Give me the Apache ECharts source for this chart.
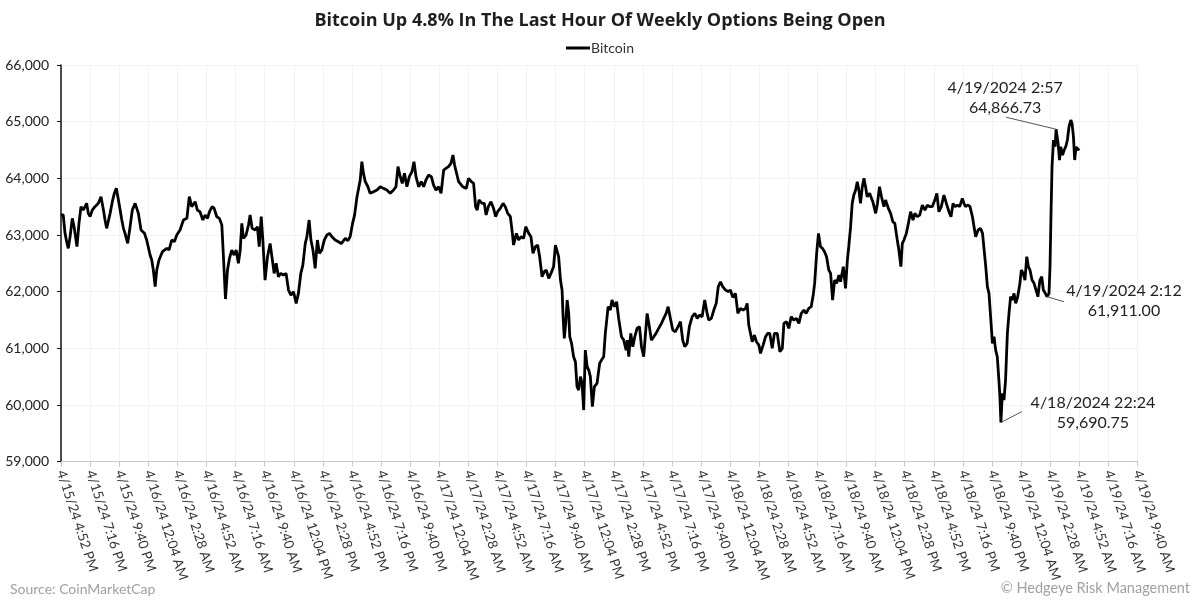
<!DOCTYPE html>
<html>
<head>
<meta charset="utf-8">
<script src="https://cdn.jsdelivr.net/npm/echarts@6/dist/echarts.min.js"></script>
<style>
html,body{margin:0;padding:0;background:#fff;}
#chart{width:1200px;height:603px;}
</style>
</head>
<body>
<div id="chart"></div>
<script>
// Minutes elapsed since 4/15/24 4:52 PM
const minutesFromStart = [
0,11,20,28,36,45,56,66,79,89,99,110,127,135,144,155,168,185,198,210,218,226,243,254,264,274,287,301,309,317,330,342,353,367,383,396,413,424,441,449,457,466,474,485,502,524,535,548,561,573,589,606,623,635,647,664,675,688,702,713,725,735,748,758,771,784,796,804,814,824,834,845,857,867,878,887,895,903,916,928,936,946,961,972,981,991,999,1010,1022,1035,1044,1055,1065,1076,1088,1101,1114,1126,1138,1151,1164,1175,1187,1197,1209,1217,1228,1237,1247,1258,1269,1279,1291,1303,1316,1329,1341,1357,1373,1387,1407,1420,1431,1443,1453,1465,1473,1481,1489,1497,1506,1519,1530,1547,1564,1580,1596,1613,1629,1646,1658,1668,1679,1689,1700,1712,1724,1737,1747,1757,1770,1783,1795,1806,1819,1833,1844,1856,1869,1881,1894,1905,1918,1930,1940,1948,1956,1968,1976,1988,2006,2017,2031,2042,2052,2060,2069,2084,2095,2104,2115,2128,2141,2151,2161,2174,2188,2199,2211,2224,2234,2240,2254,2265,2277,2290,2300,2315,2326,2336,2348,2359,2369,2381,2392,2402,2414,2425,2438,2447,2455,2463,2472,2480,2485,2491,2498,2505,2513,2518,2527,2537,2546,2554,2562,2571,2579,2587,2595,2604,2612,2620,2630,2640,2653,2666,2675,2686,2694,2708,2719,2727,2739,2750,2760,2774,2785,2797,2803,2810,2820,2830,2840,2851,2863,2873,2884,2893,2901,2912,2922,2934,2945,2958,2972,2983,2995,3005,3016,3028,3041,3054,3066,3077,3087,3099,3110,3124,3137,3149,3160,3173,3186,3198,3206,3219,3231,3243,3253,3264,3275,3289,3302,3313,3325,3338,3350,3363,3376,3388,3396,3404,3413,3421,3432,3442,3454,3462,3475,3487,3498,3508,3520,3531,3545,3558,3570,3578,3591,3602,3614,3627,3640,3652,3664,3677,3688,3701,3713,3723,3730,3740,3749,3759,3769,3779,3789,3800,3809,3819,3829,3839,3850,3858,3872,3883,3892,3899,3908,3916,3924,3933,3941,3949,3957,3966,3974,3982,3990,4002,4018,4032,4041,4051,4061,4073,4081,4095,4106,4117,4127,4139,4147,4157,4164,4172,4184,4194,4205,4217,4226,4238,4250,4263,4276,4288,4299,4312,4325,4335,4345,4357,4370,4382,4395,4405,4415,4425,4437,4448,4461,4469,4477,4489,4499,4511,4519,4527,4539,4551,4561,4569,4577,4585,4593,4601,4610,4618,4626,4634,4642,4647,4652,4659,4667,4675,4684,4692,4700,4709,4717,4725,4735,4746,4753,4762,4771,4780,4788,4796,4806,4816,4826,4835,4845,4854,4862,4872,4880,4890,4895,4900,4905,4912,4920,4925,4935,4942,4948,4957,4965,4973,4981,4989,4998,5004,5011,5017,5024,5031,5040
];
const bitcoinPrice = [
63353,63353,63030,62883,62765,62971,63294,63118,62795,63206,63500,63441,63559,63382,63324,63441,63500,63559,63677,63441,63265,63118,63382,63588,63735,63824,63559,63265,63118,63030,62853,63147,63441,63559,63382,63089,63030,62912,62648,62559,62383,62089,62383,62559,62706,62765,62736,62912,62883,63000,63089,63265,63294,63677,63500,63588,63440,63411,63264,63352,63294,63411,63500,63470,63323,63294,63176,62617,61870,62382,62588,62735,62647,62735,62500,62735,63205,62941,63000,63176,63352,63117,63088,63147,62794,63323,62911,62205,62617,62852,62617,62323,62500,62264,62323,62294,62323,62029,61940,62000,61793,61970,62323,62470,62852,62970,63264,62911,62735,62411,62911,62676,62735,62911,63000,63029,62970,62911,62880,62850,62940,62900,62970,63205,63352,63676,63647,63970,64294,64088,63941,63852,63735,63765,63794,63852,63823,63794,63735,63794,63852,64206,64029,63911,64088,63852,64029,64117,64294,64029,63852,63941,63852,63970,64058,64029,63882,63794,63852,63735,64147,64176,64206,64264,64411,64235,64117,63941,63911,63852,63823,64000,63941,63912,63500,63441,63617,63559,63559,63353,63500,63588,63470,63323,63411,63470,63559,63500,63382,63323,63029,62823,63029,62912,62970,62941,63147,63029,62970,62676,62794,62823,62618,62264,62353,62382,62235,62323,62441,62823,62853,62618,62206,62029,61559,61176,61441,61853,61617,61206,61088,60853,60765,60323,60265,60500,60382,59911,60970,60676,60617,60500,59970,60323,60382,60735,60793,60852,61264,61735,61676,61852,61735,61823,61529,61205,61146,60970,61146,60852,61264,61029,61205,61352,61382,61029,60852,61264,61617,61382,61146,61205,61264,61352,61441,61529,61617,61735,61529,61323,61294,61382,61470,61146,61029,61088,61382,61558,61617,61529,61588,61558,61852,61617,61499,61529,61676,61794,62088,62176,62088,62029,62000,62029,61900,61970,61617,61705,61676,61705,61793,61411,61382,61117,61235,61117,61058,60911,61058,61205,61264,61264,61000,61264,61264,60940,61000,61440,61470,61352,61558,61499,61529,61440,61617,61676,61617,61705,61735,61940,62146,62676,63029,62793,62764,62705,62617,62382,62323,61852,62205,62147,62293,62176,62440,62058,62558,62793,63147,63558,63705,63793,63941,63793,63558,63852,64000,63852,63676,63735,63588,63382,63558,63852,63676,63499,63617,63470,63382,63235,63205,62911,62735,62441,62852,62911,63029,63205,63411,63264,63382,63323,63352,63529,63441,63529,63500,63500,63617,63735,63411,63500,63705,63558,63411,63323,63558,63500,63529,63500,63646,63560,63500,63530,63500,63323,63147,62970,63088,63117,63029,62735,62441,62088,61970,61558,61088,61205,60970,60852,60441,60147,59690.75,60205,60088,60441,61264,61617,61911,61853,61970,61794,61911,62147,62382,62323,62205,62617,62441,62382,62205,62147,62029,61911,62205,62264,62029,61970,61911.00,61970,62441,63382,64205,64676,64558,64866.73,64617,64323,64558,64411,64500,64558,64676,64911,65029,64970,64735,64323,64558,64500,64529
];
// Axis tick labels, one every 144 minutes
const tickLabels = [
'4/15/24 4:52 PM','4/15/24 7:16 PM','4/15/24 9:40 PM','4/16/24 12:04 AM','4/16/24 2:28 AM','4/16/24 4:52 AM','4/16/24 7:16 AM','4/16/24 9:40 AM','4/16/24 12:04 PM','4/16/24 2:28 PM','4/16/24 4:52 PM','4/16/24 7:16 PM','4/16/24 9:40 PM',
'4/17/24 12:04 AM','4/17/24 2:28 AM','4/17/24 4:52 AM','4/17/24 7:16 AM','4/17/24 9:40 AM','4/17/24 12:04 PM','4/17/24 2:28 PM','4/17/24 4:52 PM','4/17/24 7:16 PM','4/17/24 9:40 PM',
'4/18/24 12:04 AM','4/18/24 2:28 AM','4/18/24 4:52 AM','4/18/24 7:16 AM','4/18/24 9:40 AM','4/18/24 12:04 PM','4/18/24 2:28 PM','4/18/24 4:52 PM','4/18/24 7:16 PM','4/18/24 9:40 PM',
'4/19/24 12:04 AM','4/19/24 2:28 AM','4/19/24 4:52 AM','4/19/24 7:16 AM','4/19/24 9:40 AM'
];
const tickStep = 144;
// Annotated points
const annotationTimes = [4925, 4880, 4652];
const annotationValues = [64866.73, 61911.00, 59690.75];
const annotationTexts = ['4/19/2024 2:57\n64,866.73', '4/19/2024 2:12\n61,911.00', '4/18/2024 22:24\n59,690.75'];

const FONT = 'Lato, "Noto Sans", sans-serif';
const TITLE_FONT = '"Open Sans", Lato, sans-serif';
const chart = echarts.init(document.getElementById('chart'), null, {renderer: 'canvas'});
const seriesData = minutesFromStart.map((m, i) => [m, bitcoinPrice[i]]);

const footer = [
  {type: 'text', left: 10, top: 582, style: {text: 'Source: CoinMarketCap', font: '14px ' + FONT, fill: '#a0a0a0'}},
  {type: 'text', right: 10, top: 581, style: {text: '\u00A9 Hedgeye Risk Management', font: '14.5px ' + FONT, fill: '#a0a0a0'}}
];

chart.setOption({
  animation: false,
  backgroundColor: '#fff',
  textStyle: {fontFamily: FONT},
  title: {
    text: 'Bitcoin Up 4.8% In The Last Hour Of Weekly Options Being Open',
    left: 'center', top: 7,
    textStyle: {fontFamily: TITLE_FONT, fontSize: 18, fontWeight: 'bold', color: '#1e1e1e'}
  },
  legend: {
    top: 36, left: 'center',
    data: ['Bitcoin'],
    icon: 'rect', itemWidth: 24, itemHeight: 3, itemGap: 10,
    textStyle: {fontFamily: FONT, fontSize: 14, color: '#333', padding: [0,0,0,-4]}
  },
  grid: {left: 61, right: 62.5, top: 65, bottom: 141.3, containLabel: false},
  xAxis: {
    type: 'value', min: 0, max: tickStep * (tickLabels.length - 1), interval: tickStep,
    axisLine: {show: true, lineStyle: {color: '#c8c8c8', width: 1}},
    axisTick: {show: true, length: 5, lineStyle: {color: '#c8c8c8'}},
    splitLine: {show: true, lineStyle: {color: '#f2f2f2', width: 1}},
    axisLabel: {
      rotate: -72, margin: 9, fontFamily: FONT, fontSize: 13.5, color: '#333',
      formatter: v => tickLabels[Math.round(v / tickStep)] || ''
    }
  },
  yAxis: {
    type: 'value', min: 59000, max: 66000, interval: 1000,
    axisLine: {show: true, lineStyle: {color: '#111', width: 1.5}},
    axisTick: {show: true, length: 4, lineStyle: {color: '#111'}},
    splitLine: {show: true, lineStyle: {color: '#f2f2f2', width: 1}},
    axisLabel: {
      margin: 12, fontFamily: FONT, fontSize: 14, color: '#222',
      formatter: v => v.toLocaleString('en-US')
    }
  },
  series: [{
    name: 'Bitcoin', type: 'line', data: seriesData,
    showSymbol: false, symbol: 'none',
    lineStyle: {color: '#000', width: 2.8},
    itemStyle: {color: '#000'}
  }],
  graphic: footer
});

// Annotations: leader line + label, placed relative to the data point
const leaderOffsets = [[-50, -12], [17, 5], [21, -11]];
const textOffsets = [[-51, -31], [77, 4], [92, -10]];
const extra = [];
annotationTimes.forEach((t, i) => {
  const p = chart.convertToPixel({seriesIndex: 0}, [t, annotationValues[i]]);
  const lo = leaderOffsets[i], to = textOffsets[i];
  extra.push({type: 'line', z: 50, shape: {x1: p[0], y1: p[1], x2: p[0] + lo[0], y2: p[1] + lo[1]}, style: {stroke: '#555', lineWidth: 1}});
  extra.push({type: 'text', z: 50, x: p[0] + to[0], y: p[1] + to[1], style: {text: annotationTexts[i], font: '16px ' + FONT, fill: '#222', align: 'center', verticalAlign: 'middle', lineHeight: 20}});
});
chart.setOption({graphic: footer.concat(extra)}, {replaceMerge: ['graphic']});
</script>
</body>
</html>
